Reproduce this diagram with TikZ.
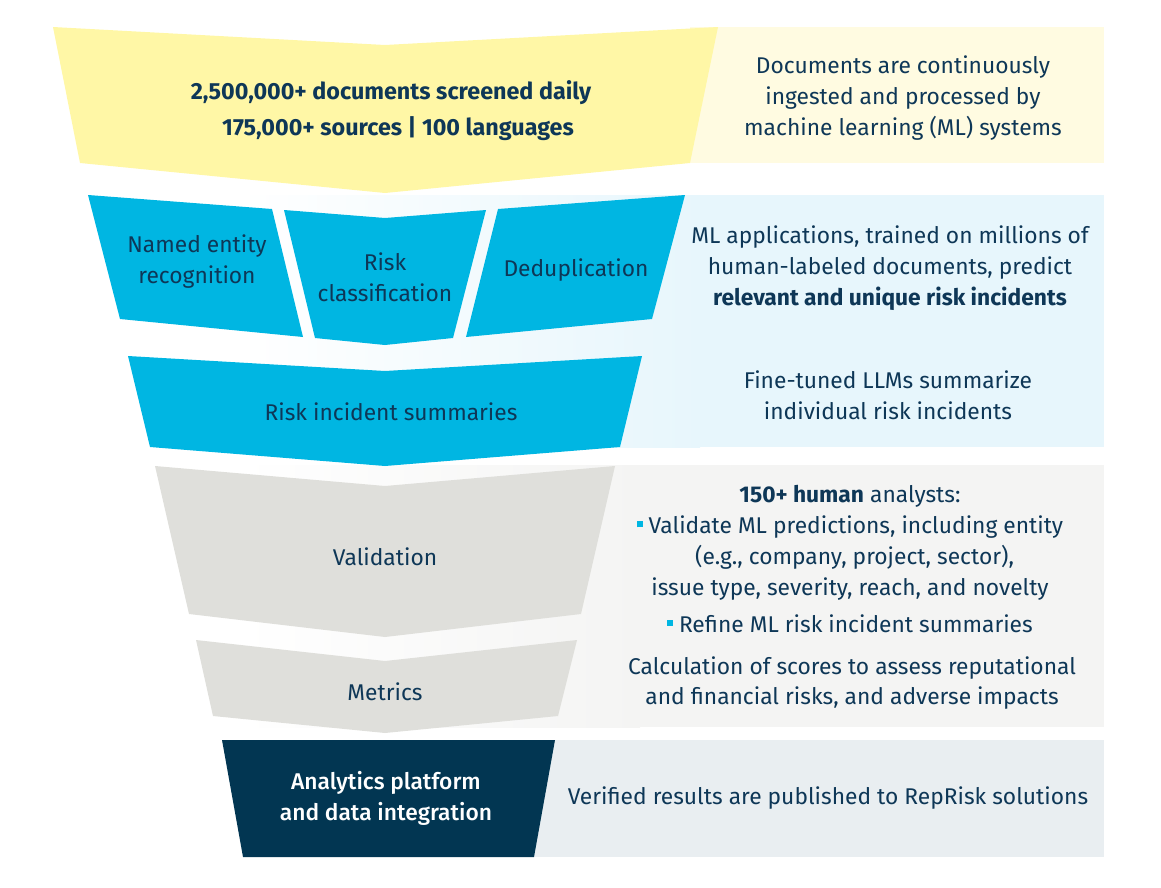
\documentclass[tikz,border=0pt]{standalone}
\usepackage{fontspec}
\setmainfont{Fira Sans}
\IfFontExistsTF{Fira Sans Medium}{\newfontfamily\platformfont{Fira Sans Medium}}{\newfontfamily\platformfont{Fira Sans}}
\usepackage{tikz}
\usetikzlibrary{positioning}

\definecolor{inknavy}{HTML}{0E3757}
\definecolor{sunyellow}{HTML}{FFF7A6}
\definecolor{paleyellow}{HTML}{FFFBE1}
\definecolor{repcyan}{HTML}{00B6E2}
\definecolor{paleblue}{HTML}{E7F6FC}
\definecolor{stonegrey}{HTML}{DFDFDB}
\definecolor{palegrey}{HTML}{F4F4F3}
\definecolor{deepnavy}{HTML}{023652}
\definecolor{mistblue}{HTML}{E9EEF1}

\newcommand{\cyanbullet}{\textcolor{repcyan}{\rule[0.28em]{0.27em}{0.27em}}\hspace{0.25em}}

\begin{document}
\begin{tikzpicture}[x=0.025cm, y=-0.025cm,
        stage/.style={text=inknavy, align=center, inner sep=0pt,
            font=\fontsize{16.2}{22}\selectfont},
        note/.style={stage},
        headline/.style={stage, font=\fontsize{16.6}{25.5}\selectfont\bfseries}]
    \useasboundingbox (0,0) rectangle (1161,887);

    \fill[paleyellow] (690,27) rectangle (1104,163);
    \shade[left color=white, right color=paleblue] (240,195) rectangle (700,447);
    \fill[paleblue] (699,195) rectangle (1104,447);
    \shade[left color=white, right color=palegrey] (240,465) rectangle (640,727);
    \fill[palegrey] (639,465) rectangle (1104,727);
    \fill[mistblue] (534,740) rectangle (1104,857);

    \fill[sunyellow] (53,27) -- (385,45) -- (718,27) -- (690,163) -- (385,193) -- (80,163) -- cycle;
    \fill[repcyan] (88,195) -- (272,209) -- (303,337) -- (120,319) -- cycle;
    \fill[repcyan] (284,210) -- (385,218) -- (486,210) -- (453,338) -- (385,345) -- (315,338) -- cycle;
    \fill[repcyan] (498,209) -- (685,195) -- (652,319) -- (466,337) -- cycle;
    \fill[repcyan] (128,356) -- (385,371) -- (642,356) -- (620,447) -- (385,466) -- (150,447) -- cycle;
    \fill[stonegrey] (155,466) -- (385,486) -- (615,466) -- (581,614) -- (385,637) -- (189,614) -- cycle;
    \fill[stonegrey] (196,640) -- (385,661) -- (577,640) -- (558,716) -- (385,733) -- (213,716) -- cycle;
    \fill[deepnavy] (222,740) -- (555,740) -- (534,857) -- (243,857) -- cycle;

    \node[headline] (screened) at (391,111) {2,500,000+ documents screened daily\\\hspace*{0.6em}175,000+ sources | 100 languages};
    \node[note] (ingest) at (903,98) {Documents are continuously\\ingested and processed by\\machine learning (ML) systems};

    \node[stage] (ner) at (197,262) {Named entity\\recognition};
    \node[stage] (riskclass) at (385,277) {Risk\\classification};
    \node[stage] (dedup) at (576,270) {Deduplication};
    \node[note] (mlapps) at (890,268) {ML applications, trained on millions of\\human-labeled documents, predict\\\textbf{relevant and unique risk incidents}};

    \node[stage] (summaries) at (391,412) {Risk incident summaries};
    \node[note] (llms) at (888,395) {Fine-tuned LLMs summarize\\individual risk incidents};

    \node[stage] (validation) at (385,557) {Validation};
    \node[note] (analysts) at (850,559) {\textbf{150+ human} analysts:\\\cyanbullet Validate ML predictions, including entity\\\hspace*{0.4em}(e.g., company, project, sector),\\issue type, severity, reach, and novelty\\[4pt]\cyanbullet Refine ML risk incident summaries};

    \node[stage] (metrics) at (385,692) {Metrics};
    \node[note] (scores) at (852,683) {Calculation of scores to assess reputational\\and financial risks, and adverse impacts};

    \node[stage, text=white, font=\fontsize{16.2}{22}\platformfont] (platform) at (386,798) {Analytics platform\\and data integration};
    \node[note] (verified) at (828,798) {Verified results are published to RepRisk solutions};
\end{tikzpicture}
\end{document}
